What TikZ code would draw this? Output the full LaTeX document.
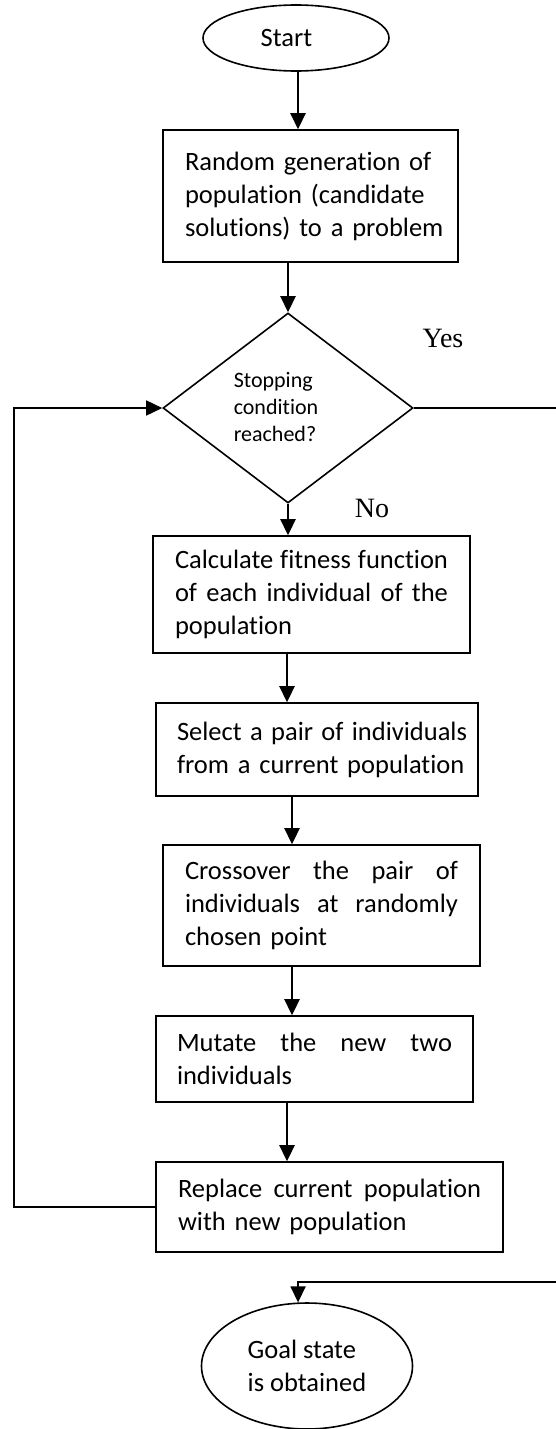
\documentclass[tikz,border=0pt]{standalone}
\usepackage{fontspec}
\setmainfont{Carlito}[RawFeature=-liga]
\newfontfamily\tnr{Liberation Serif}
\usetikzlibrary{shapes.geometric,arrows.meta}
\newcommand\jline[2]{\leavevmode\hbox to #1{#2}}
\begin{document}
\begin{tikzpicture}[x=1pt,y=-1pt,
  txt/.style={font=\fontsize{26.5}{33}\selectfont},
  pbox/.style={draw,line width=1.6pt,rectangle,inner ysep=0pt,align=left,txt},
  oval/.style={draw,line width=1.6pt,ellipse,inner sep=0pt,align=left,txt},
  arr/.style={line width=2.6pt,-{Triangle[width=15pt,length=16pt]}},
  loopline/.style={line width=1.6pt,-{Triangle[width=15pt,length=16pt]}},
  lbl/.style={font=\tnr\fontsize{28}{32}\selectfont,inner sep=0pt}]
\useasboundingbox (0,0) rectangle (556,1429);

\node[oval,minimum width=186pt,minimum height=66pt] (start) at (296,38) {\kern-19pt Start};

\node[pbox,inner xsep=22pt,text width=251pt,minimum height=132pt] (rand) at (310.5,196)
  {\mbox{Random generation of}\\\mbox{population (candidate}\\\mbox{solutions) to a problem}};

\node[draw,line width=1.6pt,diamond,minimum width=250pt,minimum height=190pt,inner sep=0pt] (dia) at (288,408) {};
\node[align=left,inner sep=0pt,font=\fontsize{22}{27}\selectfont] (dtxt) at (276,407) {Stopping\\condition\\reached?};

\node[lbl] (yes) at (443,338) {Yes};
\node[lbl] (no) at (372,508) {No};

\node[pbox,inner xsep=22pt,text width=273pt,minimum height=117pt] (calc) at (311.5,594.5)
  {\jline{273pt}{Calculate\hfill fitness\hfill function}\\\jline{273pt}{of\hfill each\hfill individual\hfill of\hfill the}\\\mbox{population}};

\node[pbox,inner xsep=21pt,text width=280pt,minimum height=93pt] (sel) at (317,749.5)
  {\jline{290pt}{Select\hfill a\hfill pair\hfill of\hfill individuals}\\\mbox{from a current population}};

\node[pbox,inner xsep=22pt,text width=273pt,minimum height=121pt] (cross) at (321.5,905.5)
  {\jline{273pt}{Crossover\hfill the\hfill pair\hfill of}\\\jline{273pt}{individuals\hfill at\hfill randomly}\\\mbox{chosen point}};

\node[pbox,inner xsep=21pt,text width=275pt,minimum height=86pt] (mut) at (314.5,1059)
  {\jline{275pt}{Mutate\hfill the\hfill new\hfill two}\\\mbox{individuals}};

\node[pbox,inner xsep=22pt,text width=303pt,minimum height=90pt] (rep) at (329.5,1207)
  {\jline{303pt}{Replace\hfill current\hfill population}\\\mbox{with new population}};

\node[oval,minimum width=211pt,minimum height=126pt] (goal) at (307,1366)
  {Goal state\\is obtained};

\coordinate (lx) at (14,0);
\coordinate (rx) at (560,0);
\coordinate (gy) at (0,1282);

\draw[arr] ([xshift=2pt]start.south) -- ([xshift=2pt]start.south |- rand.north);
\draw[arr] (rand.south -| dia.north) -- (dia.north);
\draw[arr] (dia.south) -- (dia.south |- calc.north);
\draw[arr] ([xshift=-24.5pt]calc.south) -- ([xshift=-24.5pt]calc.south |- sel.north);
\draw[arr] ([xshift=-25pt]sel.south) -- ([xshift=-25pt]sel.south |- cross.north);
\draw[arr] ([xshift=-29.5pt]cross.south) -- ([xshift=-29.5pt]cross.south |- mut.north);
\draw[arr] ([xshift=-27.5pt]mut.south) -- ([xshift=-27.5pt]mut.south |- rep.north);

\draw[loopline] (rep.west) -- (rep.west -| lx) -- (dia.west -| lx) -- (dia.west);
\draw[loopline] (dia.east) -- (dia.east -| rx) -- (rx |- gy) -- (goal.98 |- gy) -- (goal.98);
\end{tikzpicture}
\end{document}
